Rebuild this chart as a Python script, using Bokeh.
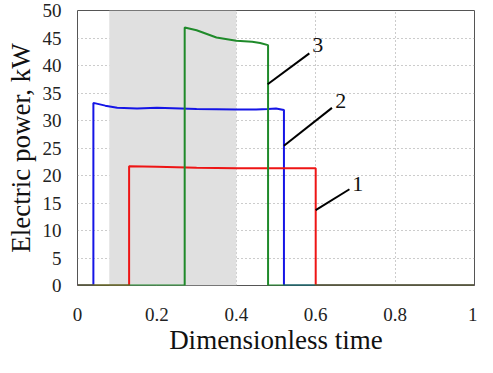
from bokeh.plotting import figure
from bokeh.models import Range1d, FixedTicker, BoxAnnotation, Label
from bokeh.embed import file_html
from bokeh.resources import INLINE

# ---- data ----
x_ticks = [0, 0.2, 0.4, 0.6, 0.8, 1.0]
x_tick_labels = ["0", "0.2", "0.4", "0.6", "0.8", "1"]
y_ticks = [0, 5, 10, 15, 20, 25, 30, 35, 40, 45, 50]

shade_start = 0.08
shade_end = 0.40

s2_x = [0.0, 0.04, 0.04, 0.07, 0.10, 0.15, 0.20, 0.30, 0.40, 0.45, 0.48, 0.50, 0.52, 0.52, 1.0]
s2_y = [0.0, 0.0, 33.2, 32.7, 32.3, 32.2, 32.3, 32.1, 32.0, 32.0, 32.1, 32.2, 31.9, 0.0, 0.0]

s1_x = [0.0, 0.13, 0.13, 0.20, 0.30, 0.40, 0.50, 0.60, 0.60, 1.0]
s1_y = [0.0, 0.0, 21.7, 21.6, 21.4, 21.3, 21.3, 21.3, 0.0, 0.0]

s3_x = [0.0, 0.27, 0.27, 0.30, 0.35, 0.40, 0.44, 0.46, 0.48, 0.48, 1.0]
s3_y = [0.0, 0.0, 46.9, 46.4, 45.1, 44.5, 44.3, 44.1, 43.7, 0.0, 0.0]

curve_labels = ["1", "2", "3"]

FONT = "Liberation Serif"

p = figure(width=477, height=357, output_backend="svg", toolbar_location=None,
           x_range=Range1d(0, 1), y_range=Range1d(0, 50),
           min_border_left=77, min_border_right=3, min_border_top=10,
           min_border_bottom=60)

p.background_fill_color = "white"
p.border_fill_color = "white"
p.outline_line_color = "#555555"
p.outline_line_width = 1

p.add_layout(BoxAnnotation(left=shade_start, right=shade_end, fill_color="#e0e0e0",
                           fill_alpha=1.0, line_color=None, level="underlay"))

for ax in (p.xaxis[0], p.yaxis[0]):
    ax.axis_line_color = None
    ax.major_tick_line_color = None
    ax.minor_tick_line_color = None
    ax.major_label_text_font = FONT
    ax.major_label_text_font_size = "19px"
    ax.major_label_text_color = "#222222"
    ax.axis_label_text_font = FONT
    ax.axis_label_text_font_size = "27px"
    ax.axis_label_text_font_style = "normal"
    ax.axis_label_text_color = "#111111"

p.xaxis.ticker = FixedTicker(ticks=x_ticks)
p.xaxis.major_label_overrides = {t: l for t, l in zip(x_ticks, x_tick_labels)}
p.yaxis.ticker = FixedTicker(ticks=y_ticks)
p.xaxis.axis_label = "Dimensionless time"
p.yaxis.axis_label = "Electric power, kW"
p.xaxis.major_label_standoff = 16
p.xaxis.axis_label_standoff = 1
p.yaxis.major_label_standoff = 10
p.yaxis.axis_label_standoff = 4

p.xgrid.ticker = FixedTicker(ticks=x_ticks[1:-1])
p.ygrid.ticker = FixedTicker(ticks=y_ticks[1:-1])
for g in (p.xgrid[0], p.ygrid[0]):
    g.grid_line_color = "#999999"
    g.grid_line_dash = "1 3"
    g.grid_line_width = 1

p.line(s2_x, s2_y, line_color="#1515e6", line_width=2)
p.line(s1_x, s1_y, line_color="#ee1515", line_width=2)
p.line(s3_x, s3_y, line_color="#1f8a2a", line_width=2)

# leader lines and labels
leaders = [((0.600, 0.685), (13.7, 17.5)), ((0.52, 0.641), (25.4, 32.3)), ((0.479, 0.584), (36.6, 42.2))]
label_pos = [(0.706, 18.5), (0.663, 33.5), (0.605, 43.7)]
for (lx, ly), (tx, ty), txt in zip(leaders, label_pos, curve_labels):
    p.line(list(lx), list(ly), line_color="black", line_width=2)
    p.add_layout(Label(x=tx, y=ty, text=txt, text_font=FONT, text_font_size="22px",
                       text_align="center", text_baseline="middle", text_color="#111111"))

open("out.html", "w").write(file_html(p, INLINE))
